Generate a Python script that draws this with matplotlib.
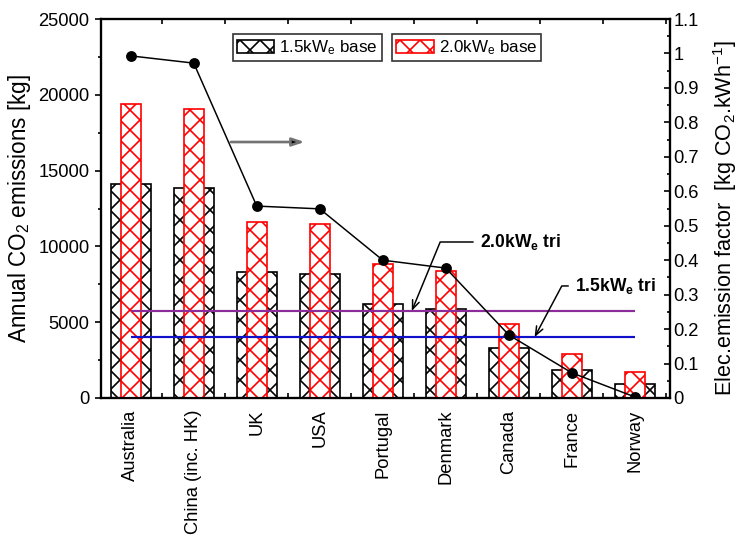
import numpy as np
import matplotlib
matplotlib.use('Agg')
import matplotlib.pyplot as plt
from matplotlib.patches import Patch
from matplotlib.ticker import MultipleLocator, FuncFormatter

plt.rcParams['font.family'] = ['Liberation Sans', 'DejaVu Sans']
plt.rcParams['mathtext.default'] = 'regular'
plt.rcParams['hatch.linewidth'] = 1.0

# Data
countries = ['Australia', 'China (inc. HK)', 'UK', 'USA', 'Portugal',
             'Denmark', 'Canada', 'France', 'Norway']
base_15 = [14100, 13850, 8300, 8200, 6200, 5870, 3300, 1850, 920]
base_20 = [19400, 19060, 11600, 11480, 8840, 8380, 4880, 2900, 1710]
emission_factor = [0.993, 0.972, 0.557, 0.549, 0.400, 0.377, 0.183, 0.073, 0.003]
tri_15 = 4020
tri_20 = 5740

x = np.arange(len(countries))

fig = plt.figure(figsize=(6.15, 4.4667), dpi=120)
ax = fig.add_axes([0.137, 0.2575, 0.771, 0.707])

# bars: 1.5 kWe (wide, black hatch) behind, 2.0 kWe (narrow, red hatch) in front
ax.bar(x, base_15, width=0.63, facecolor='white', edgecolor='black',
       hatch='xx', linewidth=1.0, zorder=2)
ax.bar(x, base_20, width=0.32, facecolor='white', edgecolor='red',
       hatch='xx', linewidth=1.0, zorder=3)

# tri-generation reference lines
ax.hlines(tri_20, x[0], x[-1], color='#8B2C9A', linewidth=1.3, zorder=4)
ax.hlines(tri_15, x[0], x[-1], color='#1010CC', linewidth=1.3, zorder=4)

ax.set_xlim(-0.47, 8.56)
ax.set_ylim(0, 25000)
ax.set_xticks(x)
ax.set_xticklabels(countries, rotation=90, fontsize=11)
ax.xaxis.set_minor_locator(MultipleLocator(1, offset=0.5))
ax.tick_params(axis='x', which='major', length=0, pad=7)
ax.tick_params(axis='x', which='minor', direction='in', length=3,
               top=True, bottom=True, width=1)
ax.yaxis.set_major_locator(MultipleLocator(5000))
ax.yaxis.set_minor_locator(MultipleLocator(2500))
ax.tick_params(axis='y', which='major', direction='out', length=3.5,
               labelsize=11, width=1)
ax.tick_params(axis='y', which='minor', direction='out', length=2, width=1)
ax.set_ylabel('Annual CO$_2$ emissions [kg]', fontsize=13.5, labelpad=3)
for s in ax.spines.values():
    s.set_linewidth(1.3)

# emission factor on the right axis
ax2 = ax.twinx()
ax2.plot(x, emission_factor, color='black', linewidth=0.9, marker='o',
         markersize=5.5, zorder=5)
ax2.set_ylim(0, 1.1)
ax2.yaxis.set_major_locator(MultipleLocator(0.1))
ax2.yaxis.set_minor_locator(MultipleLocator(0.05))
ax2.yaxis.set_major_formatter(FuncFormatter(lambda v, p: f'{v:g}'))
ax2.tick_params(axis='y', which='major', direction='in', length=3.5,
                labelsize=11, width=1, pad=2)
ax2.tick_params(axis='y', which='minor', direction='in', length=2, width=1)
ax2.set_ylabel('Elec.emission factor  [kg CO$_2$.kWh$^{-1}$]', fontsize=13,
               labelpad=7)
ax2.yaxis.label.set_y(0.475)
for s in ax2.spines.values():
    s.set_linewidth(1.3)

# arrow pointing to the right axis
ax2.annotate('', xy=(2.76, 0.743), xytext=(1.59, 0.743),
             arrowprops=dict(arrowstyle='-|>,head_length=0.6,head_width=0.2',
                             edgecolor='0.45', facecolor='black', lw=1.6,
                             shrinkA=0, shrinkB=0))

# legends (two separate boxes)
h15 = Patch(facecolor='white', edgecolor='black', hatch='xx', linewidth=1.0)
h20 = Patch(facecolor='white', edgecolor='red', hatch='xx', linewidth=1.0)
leg_kw = dict(loc='upper left', fontsize=10.2, frameon=True, fancybox=False,
              borderaxespad=0, handlelength=2.2, handleheight=0.8,
              handletextpad=0.3, borderpad=0.25)
leg1 = ax.legend([h15], ['1.5kW$_e$ base'], bbox_to_anchor=(0.231, 0.96), **leg_kw)
leg1.get_frame().set_edgecolor('black')
leg1.get_frame().set_linewidth(1.0)
ax.add_artist(leg1)
leg2 = ax.legend([h20], ['2.0kW$_e$ base'], bbox_to_anchor=(0.511, 0.96), **leg_kw)
leg2.get_frame().set_edgecolor('black')
leg2.get_frame().set_linewidth(1.0)

# tri-generation annotations
arrow_kw = dict(arrowstyle='->,head_length=0.5,head_width=0.2', color='black',
                lw=0.9, shrinkA=2, shrinkB=0)
ax.annotate('2.0kW$_e$ tri', xy=(4.46, tri_20), xytext=(5.54, 10290),
            fontsize=10.5, fontweight='bold', ha='left', va='center',
            arrowprops=dict(connectionstyle='angle,angleA=0,angleB=67.6,rad=0',
                            **arrow_kw), zorder=6)
ax.annotate('1.5kW$_e$ tri', xy=(6.41, tri_15), xytext=(7.05, 7390),
            fontsize=10.5, fontweight='bold', ha='left', va='center',
            arrowprops=dict(connectionstyle='angle,angleA=0,angleB=62,rad=0',
                            **arrow_kw), zorder=6)

fig.savefig('out.png', dpi=120)
